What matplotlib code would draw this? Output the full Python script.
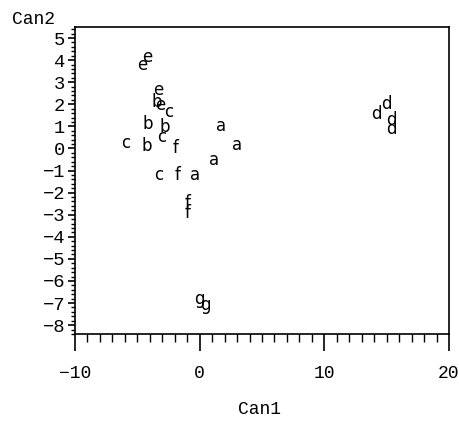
import matplotlib
matplotlib.use("Agg")
import matplotlib.pyplot as plt
from matplotlib.ticker import MultipleLocator

labels = ['e','e','e','b','e','c','b','b','c','c','b','f','a','a','a','c','f','a','f','f','g','g','d','d','d','d']
can1 = [-4.17,-4.57,-3.29,-3.45,-3.13,-2.49,-4.17,-2.8,-3.05,-5.93,-4.25,-1.92,1.68,2.97,1.12,-3.29,-1.76,-0.4,-0.96,-0.96,0.0,0.48,14.2,15.0,15.4,15.4]
can2 = [4.12,3.8,2.63,2.1,1.99,1.63,1.09,0.95,0.54,0.23,0.09,0.0,1.04,0.14,-0.54,-1.18,-1.18,-1.18,-2.45,-2.9,-6.8,-7.07,1.58,2.0,1.27,0.9]

xticks = [-10, 0, 10, 20]
yticks = list(range(-8, 6))

fig = plt.figure(figsize=(4.6, 4.24), dpi=100)
ax = fig.add_axes([75/460, 1-334/424, (449-75)/460, (334-27)/424])

for lab, x, y in zip(labels, can1, can2):
    ax.text(x, y, lab, ha='center', va='center', fontsize=12, family='DejaVu Sans', color='black')

ax.set_xlim(-10, 20)
ax.set_ylim(-8.4, 5.5)
ax.set_xticks(xticks)
ax.set_xticklabels([f"{t:d}".replace('-', '\u2212') for t in xticks], family='Liberation Mono', fontsize=13)
ax.set_yticks(yticks)
ax.set_yticklabels([f"{t:d}".replace('-', '\u2212') for t in yticks], family='Liberation Mono', fontsize=13.5)
ax.xaxis.set_minor_locator(MultipleLocator(1))
ax.yaxis.set_minor_locator(MultipleLocator(0.2))
ax.tick_params(axis='x', which='major', length=12, width=1.2, direction='out', pad=10)
ax.tick_params(axis='x', which='minor', length=6, width=1, direction='out')
ax.tick_params(axis='y', which='major', length=5, width=1.2, direction='out', pad=2)
ax.tick_params(axis='y', which='minor', length=3, width=1, direction='out')
for s in ax.spines.values():
    s.set_linewidth(1.2)

fig.text(260/460, 1-410/424, 'Can1', family='Liberation Mono', fontsize=13, ha='center', va='center')
fig.text(12/460, 1-20/424, 'Can2', family='Liberation Mono', fontsize=13, ha='left', va='center')

fig.savefig('out.png', dpi=100)
